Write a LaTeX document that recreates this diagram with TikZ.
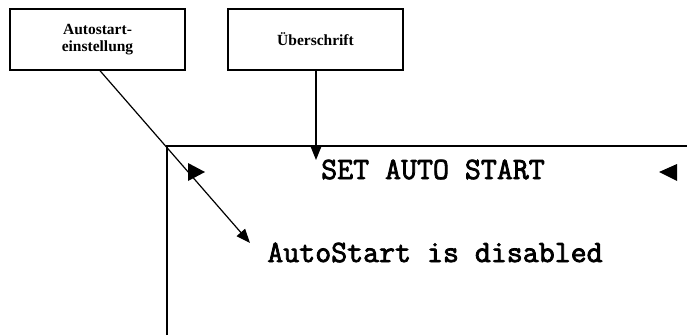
\documentclass[tikz,border=0pt]{standalone}
\usepackage{fontspec}
\setmainfont{Liberation Serif}
\newfontfamily\dispfont{Latin Modern Mono}[FakeBold=2.5]
\usetikzlibrary{arrows.meta}
\begin{document}
\begin{tikzpicture}[x=1pt,y=-1pt,
  callout/.style={draw,line width=1.4pt,minimum width=175pt,minimum height=61pt,inner sep=0pt,
    align=center,font=\bfseries\fontsize{15.5}{16.5}\selectfont},
  leader/.style={line width=1.2pt,-{Triangle[length=14pt,width=11pt]}},
  frame/.style={line width=1.4pt},
  disp/.style={font=\dispfont\fontsize{31}{34}\selectfont,inner sep=0pt,anchor=base}]
\useasboundingbox (0,0) rectangle (687,335);
\node[callout] (box1) at (97.5,39.5) {Autostart-\\einstellung};
\node[callout] (box2) at (315.5,39.5) {Überschrift};
\coordinate (fbl) at (167,335);
\coordinate (ftl) at (167,146);
\coordinate (ftr) at (687,146);
\draw[frame] (fbl) -- (ftl) -- (ftr);
\node[disp] (title) at (433,179) {SET AUTO START};
\node[disp] (msg) at (435,262) {AutoStart is disabled};
\fill (188,163) -- (188,181) -- (205,172) -- cycle;
\fill (677,164) -- (677,181) -- (659,172) -- cycle;
\coordinate (t1) at (250,243);
\coordinate (t2) at (316,160);
\draw[leader] ([xshift=2.5pt]box1.south) -- (t1);
\draw[leader] ([xshift=0.5pt]box2.south) -- (t2);
\end{tikzpicture}
\end{document}
